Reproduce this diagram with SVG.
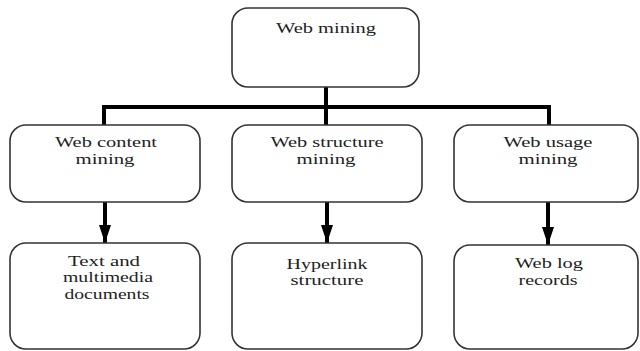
<svg xmlns="http://www.w3.org/2000/svg" width="640" height="351" viewBox="0 0 640 351">
<style>
.box{fill:#fff;stroke:#333;stroke-width:1.6}
.t{font-size:15px;fill:#222;text-anchor:middle}
.c{stroke:#000;stroke-width:4;fill:none}
</style>
<defs>
<marker id="ah" markerUnits="userSpaceOnUse" markerWidth="18" markerHeight="12" refX="18" refY="6" orient="auto">
<path d="M0,0 L18,6 L0,12 Z" fill="#000"/>
</marker>
</defs>
<rect width="640" height="351" fill="#fff"/>
<g id="connectors">
<path class="c" d="M326,87 V125"/>
<path class="c" d="M104,125 V107 H549 V125"/>
<path class="c" d="M105,202 V243" marker-end="url(#ah)"/>
<path class="c" d="M327,202 V243" marker-end="url(#ah)"/>
<path class="c" d="M548,202 V245" marker-end="url(#ah)"/>
</g>
<g font-family="Liberation Serif, Times New Roman, DejaVu Serif, serif">
<g id="web-mining">
<rect class="box" x="232" y="8" width="187" height="79" rx="16"/>
<text class="t" x="326" y="33" textLength="100" lengthAdjust="spacingAndGlyphs">Web mining</text>
</g>
<g id="web-content-mining">
<rect class="box" x="10" y="125" width="190" height="77" rx="16"/>
<text class="t" x="106" y="147" textLength="102" lengthAdjust="spacingAndGlyphs">Web content</text>
<text class="t" x="105" y="164" textLength="59" lengthAdjust="spacingAndGlyphs">mining</text>
</g>
<g id="web-structure-mining">
<rect class="box" x="232" y="125" width="190" height="77" rx="16"/>
<text class="t" x="327" y="147" textLength="113" lengthAdjust="spacingAndGlyphs">Web structure</text>
<text class="t" x="326" y="164" textLength="59" lengthAdjust="spacingAndGlyphs">mining</text>
</g>
<g id="web-usage-mining">
<rect class="box" x="454" y="125" width="184" height="77" rx="16"/>
<text class="t" x="548" y="147" textLength="89" lengthAdjust="spacingAndGlyphs">Web usage</text>
<text class="t" x="548" y="164" textLength="59" lengthAdjust="spacingAndGlyphs">mining</text>
</g>
<g id="text-multimedia">
<rect class="box" x="10" y="243" width="190" height="106" rx="16"/>
<text class="t" x="104" y="266" textLength="72" lengthAdjust="spacingAndGlyphs">Text and</text>
<text class="t" x="108" y="282" textLength="90" lengthAdjust="spacingAndGlyphs">multimedia</text>
<text class="t" x="107" y="299" textLength="85" lengthAdjust="spacingAndGlyphs">documents</text>
</g>
<g id="hyperlink-structure">
<rect class="box" x="232" y="243" width="190" height="106" rx="16"/>
<text class="t" x="327" y="269" textLength="81" lengthAdjust="spacingAndGlyphs">Hyperlink</text>
<text class="t" x="327" y="285" textLength="73" lengthAdjust="spacingAndGlyphs">structure</text>
</g>
<g id="web-log-records">
<rect class="box" x="454" y="245" width="184" height="104" rx="16"/>
<text class="t" x="549" y="268" textLength="68" lengthAdjust="spacingAndGlyphs">Web log</text>
<text class="t" x="548" y="285" textLength="59" lengthAdjust="spacingAndGlyphs">records</text>
</g>
</g>
</svg>
